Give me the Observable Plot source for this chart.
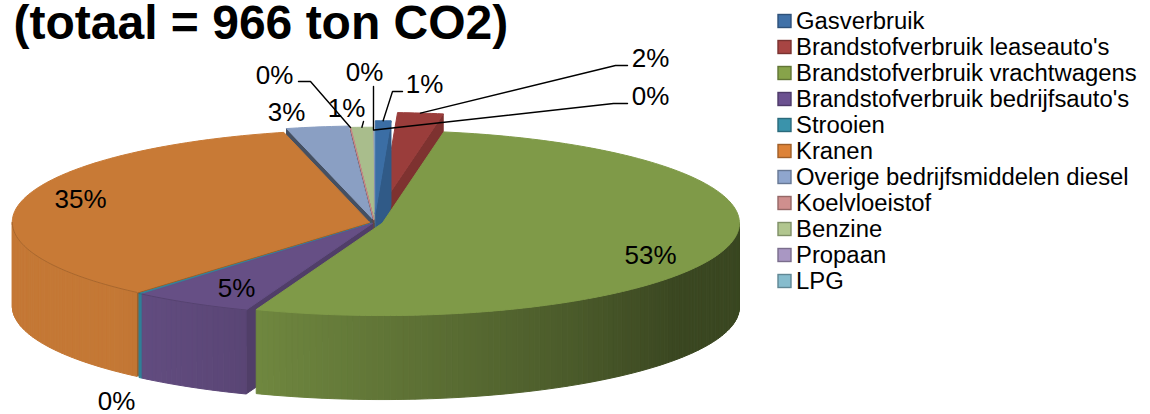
<!DOCTYPE html>
<html><head><meta charset="utf-8">
<script src="https://cdn.jsdelivr.net/npm/d3@7"></script>
<script src="https://cdn.jsdelivr.net/npm/@observablehq/plot@0.6"></script>
<style>html,body{margin:0;padding:0;background:#fff}svg{display:block}</style>
</head><body><div id="chart"></div>
<script>
const titleText = "(totaal = 966 ton CO2)";
const categories = ["Gasverbruik","Brandstofverbruik leaseauto's","Brandstofverbruik vrachtwagens","Brandstofverbruik bedrijfsauto's","Strooien","Kranen","Overige bedrijfsmiddelen diesel","Koelvloeistof","Benzine","Propaan","LPG"];
const shares = [0.7,2.05,53,5.4,0.15,34.85,2.8,0.02,0.97,0.03,0.03];
const colors = ["#3b6ea5","#9a3d3b","#7f9a48","#664f85","#31859c","#c87a36","#8a9fc3","#c98a8a","#a9bd8c","#a596bd","#7fb9cb"];
const swatchColors = ["#4071a8","#a84543","#87a34a","#6b5190","#3a93ab","#dd8237","#8fa6ce","#cf8f8e","#b1c68f","#a997c3","#86bccd"];

// layout (not data)
const W = 1150, H = 414;
const cx = 374, cy = 222, rx = 357, ry = 92.5, depth = 84;
const explode = [0.10,0.19,0.023,0.012,0.012,0.015,0.045,0.03,0.03,0,0];
const paintOrder = [10,9,8,7,1,0,6,5,4,3,2];
const labelX = [424,650,650,236,116,80,286,274,346,364,650];
const labelY = [84,58,255,288,401,199,112,75,108,72,96];
const leaderVia = [[[402,91],[392,91]],[[627,65],[615,65]],null,null,null,null,null,[[298,81],[310,81]],[[363,121]],[[373,86]],[[627,103],[613,103]]];
const legendY = i => 21 + i * 26;

const total = d3.sum(shares);
const pct = d3.format(".0%");
let acc = 0;
const slices = categories.map((name,i) => {
  const a0 = acc / total * 360; acc += shares[i]; const a1 = acc / total * 360;
  const mid = (a0 + a1) / 2 * Math.PI / 180;
  return {i,name,a0,a1,
    ox: cx + explode[i] * rx * Math.sin(mid),
    oy: cy - explode[i] * ry * Math.cos(mid),
    mid:(a0+a1)/2};
});
const rim = (s,a,dz=0) => {
  const r = a*Math.PI/180;
  return [s.ox + rx*Math.sin(r), s.oy - ry*Math.cos(r) + dz];
};
const arcAngles = (a,b) => { const n = Math.max(1,Math.ceil(b-a)); return d3.range(n+1).map(k => a+(b-a)*k/n); };
const shade = (c,k) => { const h = d3.rgb(c); return d3.rgb(h.r*k,h.g*k,h.b*k).formatHex(); };
const wallShade = a => a < 205
  ? 0.46 + 0.44*Math.max(0,(a-125))/80
  : Math.min(0.98, 0.9 + 0.08*(a-205)/20);

const polys = []; const rims = []; let pid = 0;
const addPoly = (pts,c) => { const id = pid++; [...pts,pts[0]].forEach(p => polys.push({x:p[0],y:p[1],id,c})); };
for (const i of paintOrder) {
  const s = slices[i], col = colors[i];
  const apex = [s.ox,s.oy], apexB = [s.ox,s.oy+depth];
  if (s.a0 > 180) { const p = rim(s,s.a0), q = rim(s,s.a0,depth); addPoly([apex,p,q,apexB], shade(col, s.a0 > 300 ? 0.5 : 0.78)); }
  if (s.a1 < 180 && s.a1 > 0) { const p = rim(s,s.a1), q = rim(s,s.a1,depth); addPoly([apex,p,q,apexB], shade(col,0.82)); }
  const f0 = Math.max(s.a0,90), f1 = Math.min(s.a1,270);
  if (f1 > f0) {
    const as = arcAngles(f0,f1);
    for (let k=0;k<as.length-1;k++) {
      addPoly([rim(s,as[k]),rim(s,as[k+1]),rim(s,as[k+1],depth),rim(s,as[k],depth)], shade(col,wallShade((as[k]+as[k+1])/2)));
    }
  }
  addPoly([apex,...arcAngles(s.a0,s.a1).map(a=>rim(s,a))], col);
  // thin darker line where top face meets the outer wall, left of the front only
  if (f1 > f0 && s.a0 > 180) arcAngles(f0,f1).forEach(a => { const p = rim(s,a); rims.push({x:p[0],y:p[1],id:i,c:shade(col,0.82)}); });
}

const leaders = [];
slices.forEach((s,i) => {
  if (!leaderVia[i]) return;
  [...leaderVia[i],rim(s,s.mid)].forEach(p => leaders.push({x:p[0],y:p[1],id:i}));
});

const labels = slices.map((s,i)=>({t:pct(shares[i]/total),x:labelX[i],y:labelY[i]}));
const legend = categories.map((name,i)=>({name,i,c:swatchColors[i],b:shade(swatchColors[i],0.72)}));

const chart = Plot.plot({
  width:W,height:H,margin:0,
  x:{domain:[0,W],range:[0,W],axis:null},
  y:{domain:[0,H],range:[0,H],axis:null},
  color:{type:"identity"},
  style:{background:"#fff",fontFamily:"'Liberation Sans',Arial,sans-serif"},
  marks:[
    Plot.line(polys,{x:"x",y:"y",z:"id",fill:"c",stroke:"c",strokeWidth:1,curve:"linear"}),
    Plot.line(rims,{x:"x",y:"y",z:"id",stroke:"c",strokeWidth:0.9,curve:"linear"}),
    Plot.line(leaders,{x:"x",y:"y",z:"id",stroke:"#000",strokeWidth:1.4,curve:"linear"}),
    Plot.text(labels,{x:"x",y:"y",text:"t",fontSize:26,fill:"#000",stroke:null}),
    Plot.text([titleText],{x:()=>13,y:()=>23,text:d=>d,fontSize:48,fontWeight:"bold",textAnchor:"start",fill:"#000"}),
    Plot.rect(legend,{x1:()=>778,x2:()=>791,y1:d=>legendY(d.i)-6.5,y2:d=>legendY(d.i)+6.5,fill:"c",stroke:"b",strokeWidth:1.4}),
    Plot.text(legend,{x:()=>795.5,y:d=>legendY(d.i),text:"name",fontSize:23.85,textAnchor:"start",fill:"#000"})
  ]
});
document.getElementById("chart").append(chart);
</script></body></html>
